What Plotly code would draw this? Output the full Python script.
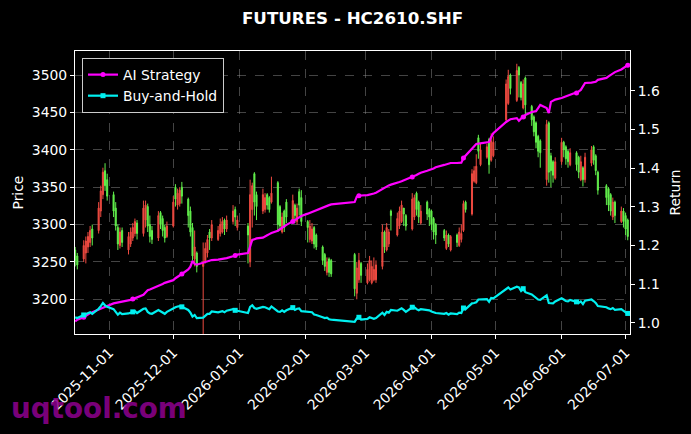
import pandas as pd
import plotly.graph_objects as go

# ---------------- data ----------------
holidays = ["2026-01-01", "2026-01-02", "2026-02-16", "2026-02-17", "2026-02-18",
            "2026-02-19", "2026-02-20", "2026-02-23", "2026-04-06", "2026-05-01",
            "2026-05-04", "2026-05-05", "2026-06-19"]
dates = [d for d in pd.bdate_range("2025-10-16", "2026-07-02") if d.strftime("%Y-%m-%d") not in holidays]

open_ = [
    3266, 3258, 3254, 3262, 3270, 3276, 3294, 3292, 3318, 3340, 3372, 3360,
    3340, 3322, 3296, 3272, 3292, 3266, 3274, 3282, 3288, 3302, 3288, 3306, 3324, 3300, 3292, 3282, 3316, 3308, 3296, 3284,
    3298, 3350, 3326, 3328, 3350, 3334, 3318, 3296, 3254, 3262, 3244, 3250, 3262, 3290, 3282, 3280, 3288, 3290, 3306, 3294, 3304, 3320, 3296,
    3298, 3250, 3320, 3368, 3340, 3318, 3320, 3340, 3336, 3330, 3356, 3324, 3290, 3318, 3330, 3306, 3326, 3304, 3344, 3336,
    3304, 3280, 3278, 3296, 3286, 3270, 3260, 3236, 3254, 3252, 3260, 3208, 3226, 3248,
    3222, 3226, 3222, 3226, 3226, 3244, 3290, 3266, 3274, 3318, 3286, 3298, 3304, 3322, 3312, 3294, 3310, 3342, 3330, 3302, 3330, 3320,
    3318, 3308, 3300, 3292, 3268, 3286, 3266, 3286, 3272, 3280, 3292, 3330, 3314, 3358, 3356, 3416, 3380, 3390, 3414, 3386, 3392,
    3440, 3462, 3500, 3466, 3510, 3490, 3456, 3496, 3458, 3444, 3436, 3418, 3412, 3360, 3436, 3392, 3384, 3362,
    3384, 3410, 3404, 3398, 3380, 3396, 3390, 3360, 3376, 3360, 3382, 3404, 3392, 3370, 3352, 3348, 3340, 3310, 3330, 3304, 3318,
    3312, 3306]
high = [
    3270, 3262, 3279, 3284, 3290, 3298, 3300, 3330, 3352, 3376, 3382, 3368,
    3344, 3330, 3300, 3296, 3296, 3290, 3296, 3302, 3308, 3306, 3332, 3332, 3328, 3312, 3298, 3318, 3318, 3312, 3300, 3304,
    3338, 3354, 3348, 3350, 3357, 3336, 3324, 3302, 3292, 3264, 3276, 3276, 3286, 3294, 3306, 3298, 3308, 3310, 3308, 3312, 3326, 3324, 3312,
    3302, 3360, 3356, 3370, 3344, 3348, 3342, 3342, 3338, 3364, 3358, 3326, 3316, 3320, 3334, 3340, 3328, 3328, 3348, 3346,
    3306, 3306, 3302, 3298, 3288, 3272, 3262, 3256, 3256, 3254, 3262, 3250, 3262, 3250,
    3248, 3258, 3252, 3256, 3252, 3300, 3292, 3302, 3294, 3320, 3316, 3324, 3332, 3322, 3314, 3342, 3340, 3344, 3332, 3326, 3332, 3322,
    3320, 3310, 3302, 3294, 3292, 3288, 3286, 3288, 3296, 3300, 3332, 3332, 3374, 3378, 3394, 3420, 3408, 3408, 3416, 3422, 3418,
    3494, 3507, 3502, 3515, 3512, 3492, 3494, 3498, 3460, 3446, 3438, 3420, 3414, 3440, 3438, 3396, 3386, 3390,
    3416, 3412, 3406, 3400, 3402, 3398, 3392, 3392, 3378, 3396, 3405, 3406, 3394, 3372, 3354, 3350, 3342, 3336, 3332, 3324, 3322,
    3316, 3308]
low = [
    3244, 3240, 3250, 3248, 3262, 3270, 3272, 3288, 3310, 3334, 3345, 3332,
    3310, 3292, 3266, 3268, 3270, 3260, 3270, 3278, 3284, 3280, 3284, 3296, 3290, 3276, 3274, 3278, 3294, 3284, 3276, 3282,
    3296, 3324, 3320, 3324, 3328, 3296, 3284, 3252, 3244, 3236, 3115, 3248, 3256, 3266, 3278, 3278, 3284, 3288, 3286, 3290, 3300, 3298, 3292,
    3248, 3243, 3296, 3312, 3306, 3314, 3316, 3320, 3316, 3328, 3290, 3292, 3288, 3290, 3302, 3304, 3302, 3300, 3312, 3298,
    3276, 3276, 3274, 3268, 3266, 3246, 3238, 3232, 3230, 3230, 3204, 3200, 3222, 3222,
    3220, 3224, 3220, 3224, 3222, 3240, 3262, 3264, 3270, 3292, 3284, 3294, 3302, 3298, 3292, 3292, 3306, 3312, 3302, 3300, 3306, 3298,
    3292, 3280, 3274, 3278, 3266, 3270, 3264, 3270, 3270, 3276, 3290, 3316, 3312, 3356, 3354, 3388, 3378, 3388, 3368, 3384, 3390,
    3438, 3460, 3474, 3464, 3470, 3466, 3454, 3442, 3432, 3418, 3402, 3390, 3376, 3352, 3356, 3350, 3356, 3360,
    3380, 3390, 3380, 3376, 3378, 3372, 3362, 3358, 3351, 3356, 3378, 3380, 3366, 3340, 3326, 3318, 3312, 3306, 3302, 3302, 3296,
    3286, 3279]
close = [
    3252, 3246, 3272, 3278, 3284, 3292, 3282, 3322, 3345, 3370, 3352, 3338,
    3318, 3298, 3274, 3290, 3276, 3284, 3290, 3296, 3304, 3288, 3322, 3326, 3298, 3284, 3280, 3312, 3300, 3292, 3282, 3298,
    3330, 3334, 3342, 3346, 3338, 3312, 3290, 3258, 3270, 3244, 3250, 3268, 3280, 3282, 3300, 3292, 3300, 3304, 3294, 3306, 3318, 3310, 3306,
    3286, 3340, 3352, 3330, 3324, 3340, 3336, 3326, 3320, 3342, 3300, 3298, 3310, 3296, 3310, 3332, 3312, 3322, 3326, 3304,
    3296, 3298, 3294, 3274, 3270, 3252, 3244, 3250, 3236, 3234, 3214, 3242, 3252, 3232,
    3240, 3252, 3244, 3240, 3246, 3290, 3270, 3296, 3290, 3312, 3308, 3318, 3326, 3314, 3298, 3334, 3336, 3320, 3310, 3318, 3314, 3310,
    3300, 3290, 3286, 3282, 3286, 3274, 3284, 3276, 3290, 3288, 3328, 3320, 3368, 3372, 3378, 3398, 3400, 3404, 3380, 3412, 3410,
    3488, 3498, 3482, 3506, 3500, 3470, 3488, 3460, 3440, 3424, 3410, 3398, 3396, 3434, 3370, 3372, 3366, 3384,
    3410, 3400, 3388, 3384, 3396, 3380, 3370, 3384, 3360, 3390, 3400, 3386, 3372, 3346, 3336, 3326, 3318, 3330, 3312, 3318, 3304,
    3294, 3284]

ai_strategy = [
    1.003, 1.008, 1.014, 1.018, 1.022, 1.025, 1.027, 1.033, 1.036, 1.039, 1.041, 1.043,
    1.050, 1.051, 1.053, 1.054, 1.055, 1.058, 1.059, 1.061, 1.063, 1.066, 1.072, 1.078, 1.084, 1.086, 1.088, 1.094, 1.097, 1.100, 1.103, 1.105,
    1.110, 1.115, 1.118, 1.122, 1.126, 1.138, 1.145, 1.160, 1.152, 1.150, 1.155, 1.157, 1.158, 1.160, 1.162, 1.163, 1.164, 1.166, 1.167, 1.167, 1.172, 1.174, 1.176,
    1.180, 1.200, 1.214, 1.216, 1.218, 1.220, 1.222, 1.226, 1.229, 1.232, 1.238, 1.242, 1.245, 1.249, 1.253, 1.262, 1.266, 1.270, 1.273, 1.276,
    1.282, 1.284, 1.286, 1.288, 1.291, 1.297, 1.299, 1.302, 1.304, 1.306, 1.312, 1.326, 1.328, 1.329,
    1.330, 1.331, 1.332, 1.334, 1.336, 1.346, 1.350, 1.353, 1.355, 1.357, 1.361, 1.364, 1.366, 1.368, 1.371, 1.377, 1.380, 1.382, 1.385, 1.388, 1.393, 1.396,
    1.397, 1.399, 1.402, 1.408, 1.410, 1.412, 1.413, 1.413, 1.413, 1.414, 1.426, 1.432, 1.450, 1.458, 1.462, 1.463, 1.464, 1.466, 1.467, 1.480, 1.490,
    1.519, 1.522, 1.526, 1.529, 1.522, 1.528, 1.532, 1.537, 1.545, 1.546, 1.547, 1.555, 1.563, 1.555, 1.542, 1.571, 1.574, 1.577,
    1.581, 1.583, 1.585, 1.587, 1.590, 1.594, 1.598, 1.602, 1.610, 1.620, 1.621, 1.622, 1.623, 1.628, 1.633, 1.637, 1.641, 1.645, 1.648, 1.655, 1.658,
    1.661, 1.666]
buy_hold = [
    1.014, 1.012, 1.020, 1.022, 1.024, 1.027, 1.023, 1.036, 1.043, 1.051, 1.045, 1.041,
    1.035, 1.028, 1.021, 1.026, 1.022, 1.024, 1.026, 1.028, 1.030, 1.025, 1.036, 1.037, 1.028, 1.024, 1.023, 1.033, 1.029, 1.027, 1.023, 1.028,
    1.038, 1.040, 1.042, 1.043, 1.041, 1.033, 1.026, 1.016, 1.020, 1.012, 1.013, 1.019, 1.023, 1.023, 1.029, 1.027, 1.029, 1.030, 1.027, 1.031, 1.035, 1.032, 1.031,
    1.025, 1.041, 1.045, 1.038, 1.036, 1.041, 1.040, 1.037, 1.035, 1.042, 1.029, 1.028, 1.032, 1.028, 1.032, 1.039, 1.033, 1.036, 1.037, 1.030,
    1.028, 1.028, 1.027, 1.021, 1.020, 1.014, 1.012, 1.013, 1.009, 1.008, 1.002, 1.011, 1.014, 1.008,
    1.010, 1.014, 1.012, 1.010, 1.012, 1.026, 1.020, 1.028, 1.026, 1.033, 1.031, 1.035, 1.037, 1.033, 1.028, 1.040, 1.040, 1.035, 1.032, 1.035, 1.033, 1.032,
    1.029, 1.026, 1.025, 1.023, 1.025, 1.021, 1.024, 1.022, 1.026, 1.025, 1.038, 1.035, 1.050, 1.051, 1.053, 1.060, 1.060, 1.061, 1.054, 1.064, 1.063,
    1.088, 1.091, 1.086, 1.093, 1.091, 1.082, 1.088, 1.079, 1.073, 1.068, 1.063, 1.060, 1.059, 1.071, 1.051, 1.051, 1.050, 1.055,
    1.063, 1.060, 1.056, 1.055, 1.059, 1.054, 1.051, 1.055, 1.048, 1.057, 1.060, 1.056, 1.051, 1.043, 1.040, 1.037, 1.035, 1.038, 1.033, 1.035, 1.030,
    1.027, 1.024]

title_text = "FUTURES - HC2610.SHF"
price_ticks = [3200, 3250, 3300, 3350, 3400, 3450, 3500]
return_ticks = [1.0, 1.1, 1.2, 1.3, 1.4, 1.5, 1.6]

# ---------------- style ----------------
RED = "#ee4a40"
GREEN = "#62f04c"
MAG = "#ff00ff"
CYN = "#00f0f0"
FONT = "DejaVu Sans"
GRID = "rgba(150,150,150,0.45)"
mark_idx = list(range(2, len(dates), 17))

fig = go.Figure()
fig.add_trace(go.Candlestick(
    x=dates, open=open_, high=high, low=low, close=close,
    increasing=dict(line=dict(color=RED, width=1), fillcolor=RED),
    decreasing=dict(line=dict(color=GREEN, width=1), fillcolor=GREEN),
    whiskerwidth=0, showlegend=False, yaxis="y", hoverinfo="skip"))

for name, vals, col, sym in [("AI Strategy", ai_strategy, MAG, "circle"),
                             ("Buy-and-Hold", buy_hold, CYN, "square")]:
    fig.add_trace(go.Scatter(x=dates, y=vals, mode="lines", yaxis="y2",
                             line=dict(color=col, width=2.2), showlegend=False))
    fig.add_trace(go.Scatter(x=[dates[i] for i in mark_idx], y=[vals[i] for i in mark_idx],
                             mode="markers", yaxis="y2", showlegend=False,
                             marker=dict(color=col, size=5, symbol=sym)))
    fig.add_trace(go.Scatter(x=[None], y=[None], mode="lines+markers", yaxis="y2", name=name,
                             line=dict(color=col, width=2.2),
                             marker=dict(color=col, size=5, symbol=sym)))

axis_common = dict(showline=True, linecolor="white", linewidth=1, ticks="outside",
                   tickcolor="white", ticklen=4, tickfont=dict(color="white", size=13.9, family=FONT),
                   zeroline=False, automargin=False)

fig.update_layout(
    width=691, height=434,
    paper_bgcolor="black", plot_bgcolor="black",
    margin=dict(l=75, r=61, t=51, b=100, autoexpand=False),
    font=dict(family=FONT, color="white", size=13.9),
    title=dict(text="<b>" + title_text + "</b>", x=0.5, xref="paper", xanchor="center",
               y=1 - 18 / 434, yref="container", yanchor="middle",
               font=dict(size=16.7, color="white", family=FONT)),
    xaxis=dict(type="date", range=["2025-10-15 22:00", "2026-07-03 01:30"],
               tickformat="%Y-%m-%d", dtick="M1", tick0="2025-11-01", tickangle=-45,
               showgrid=True, gridcolor=GRID, griddash="dash", gridwidth=0.8,
               mirror=True, rangeslider=dict(visible=False), **axis_common),
    yaxis=dict(range=[3153.6, 3532.1], tickvals=price_ticks,
               showgrid=True, gridcolor=GRID, griddash="dash", gridwidth=0.8,
               **axis_common),
    yaxis2=dict(range=[0.9708, 1.7026], tickvals=return_ticks, tickformat=".1f",
                overlaying="y", side="right", showgrid=False, **axis_common),
    legend=dict(x=0.0126, y=0.975, xanchor="left", yanchor="top", bgcolor="black",
                bordercolor="#cccccc", borderwidth=1, itemwidth=30, tracegroupgap=0,
                font=dict(size=13.9, color="white", family=FONT)),
    annotations=[
        dict(text="Price", xref="paper", yref="paper", x=(17 - 75) / 555, y=0.5,
             xanchor="center", yanchor="middle",
             textangle=-90, showarrow=False, font=dict(size=13.9, color="white", family=FONT)),
        dict(text="Return", xref="paper", yref="paper", x=(674 - 75) / 555, y=0.5,
             xanchor="center", yanchor="middle",
             textangle=-90, showarrow=False, font=dict(size=13.9, color="white", family=FONT)),
        dict(text="<b>uqtool.com</b>", xref="paper", yref="paper", x=(9 - 75) / 555,
             y=(334 - 408) / 283, xanchor="left", yanchor="middle", showarrow=False,
             font=dict(size=27.8, color="rgba(139,0,139,0.9)", family=FONT)),
    ],
)

fig.write_html("out.html", config={"displayModeBar": False},
               post_script="document.body.style.margin='0';document.body.style.background='black';")
